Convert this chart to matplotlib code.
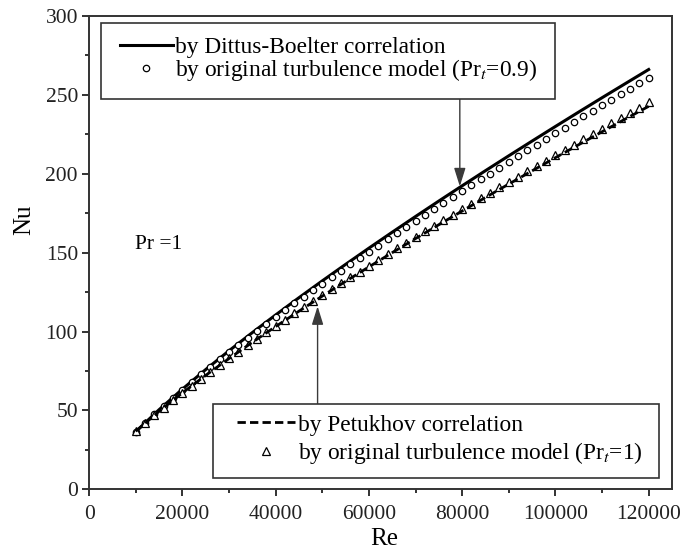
import matplotlib
matplotlib.use("Agg")
from matplotlib import pyplot as plt
from matplotlib.patches import Rectangle
from matplotlib.ticker import MultipleLocator

plt.rcParams['font.family'] = ['Liberation Serif', 'DejaVu Serif']
plt.rcParams['mathtext.fontset'] = 'stix'

# correlations (lines), Re step 5000
re_line = [10000, 15000, 20000, 25000, 30000, 35000, 40000, 45000, 50000, 55000, 60000, 65000,
           70000, 75000, 80000, 85000, 90000, 95000, 100000, 105000, 110000, 115000, 120000]
nu_dittus = [36.45, 50.42, 63.46, 75.87, 87.78, 99.30, 110.49, 121.42, 132.09, 142.55, 152.83, 162.94,
             172.90, 182.71, 192.38, 201.95, 211.39, 220.73, 229.98, 239.13, 248.19, 257.16, 266.09]
nu_petukhov = [36.77, 49.39, 61.10, 72.20, 82.85, 93.14, 103.13, 112.88, 122.42, 131.77, 140.96, 150.00,
               158.91, 167.71, 176.39, 184.98, 193.46, 201.86, 210.19, 218.43, 226.61, 234.71, 242.76]

# turbulence model results (markers), Re step 2000
re_model = list(range(10000, 120001, 2000))
nu_prt09 = [36.5, 42.1, 47.6, 52.9, 58.1, 63.1, 68.1, 72.9, 77.7, 82.4,
            87.0, 91.6, 96.1, 100.5, 104.9, 109.2, 113.5, 117.8, 122.0, 126.2,
            130.3, 134.4, 138.5, 142.6, 146.6, 150.5, 154.5, 158.4, 162.3, 166.2,
            170.0, 173.8, 177.6, 181.4, 185.2, 188.9, 192.6, 196.4, 200.1, 203.8,
            207.5, 211.2, 214.8, 218.5, 222.1, 225.7, 229.3, 232.8, 236.4, 239.9,
            243.5, 247.0, 250.5, 254.0, 257.5, 261.0]
nu_prt1 = [36.8, 41.9, 46.9, 51.8, 56.5, 61.2, 65.7, 70.1, 74.5, 78.8,
           83.1, 87.2, 91.3, 95.4, 99.4, 103.5, 107.6, 111.5, 115.4, 119.3,
           123.1, 126.9, 130.6, 134.3, 138.0, 141.8, 145.5, 149.1, 152.7, 156.3,
           159.9, 163.5, 167.0, 170.5, 174.0, 177.6, 181.0, 184.5, 187.9, 191.4,
           194.8, 198.2, 201.6, 205.0, 208.4, 211.8, 215.2, 218.5, 221.9, 225.2,
           228.6, 231.9, 235.3, 238.6, 241.9, 245.2]

fig = plt.figure(figsize=(6.96, 5.5), dpi=100)
ax = fig.add_axes([0.128, 0.1104, 0.8375, 0.8605])

l1, = ax.plot(re_line, nu_dittus, color='black', lw=2.2)
m1, = ax.plot(re_model, nu_prt09, 'o', ms=4.6, mfc='white', mec='black', mew=0.9)
m2, = ax.plot(re_model, nu_prt1, '^', ms=5.6, mfc='white', mec='black', mew=0.9)
l2, = ax.plot(re_line, nu_petukhov, color='black', lw=2.0, ls=(0, (3, 1.5)))

ax.set_xlim(0, 125000)
ax.set_ylim(0, 300)
ax.xaxis.set_major_locator(MultipleLocator(20000))
ax.xaxis.set_minor_locator(MultipleLocator(10000))
ax.yaxis.set_major_locator(MultipleLocator(50))
ax.yaxis.set_minor_locator(MultipleLocator(25))
ax.tick_params(which='both', direction='out', width=1.3, labelsize=15.5, colors='#222222')
ax.tick_params(which='major', length=5, pad=3)
ax.tick_params(which='minor', length=3)
ax.tick_params(axis='x', which='major', pad=6)
for s in ax.spines.values():
    s.set_linewidth(1.4)
    s.set_color('#333333')

ax.set_xlabel('Re', fontsize=18, va='center')
ax.set_ylabel('Nu', fontsize=18, va='center')
ax.xaxis.set_label_coords(0.506, -0.105)
ax.yaxis.set_label_coords(-0.111, 0.569)

ax.text(9860, 155, 'Pr =1', fontsize=15.5, va='center')

# legend frames (drawn separately so the padding matches the original)
for x0, y0, x1, y1 in [(0.0204, 0.824, 0.7993, 0.9846), (0.2131, 0.0232, 0.9782, 0.1802)]:
    ax.add_patch(Rectangle((x0, y0), x1 - x0, y1 - y0, transform=ax.transAxes,
                           fc='white', ec='#333333', lw=1.2, zorder=4))

leg_kw = dict(fontsize=16.8, frameon=False, handletextpad=0.1, borderpad=0, borderaxespad=0)
leg1 = ax.legend([l1, m1], ['by Dittus-Boelter correlation',
                            r'by original turbulence model (Pr$_t$=0.9)'],
                 loc='center left', bbox_to_anchor=(0.053, 0.907),
                 handlelength=2.27, labelspacing=-0.05, **leg_kw)
leg1.set_zorder(5)
ax.add_artist(leg1)
leg2 = ax.legend([l2, m2], ['by Petukhov correlation',
                            r'by original turbulence model (Pr$_t$=1)'],
                 loc='center left', bbox_to_anchor=(0.254, 0.104),
                 handlelength=2.5, labelspacing=0.18, **leg_kw)
leg2.set_zorder(5)

arrow = dict(arrowstyle='-|>,head_length=0.8,head_width=0.25', color='#3a3a3a', lw=1.0,
             mutation_scale=14, shrinkA=0, shrinkB=0)
ax.annotate('', xy=(79500, 192), xytext=(79500, 247.5), arrowprops=arrow)
ax.annotate('', xy=(49000, 116), xytext=(49000, 54.1), arrowprops=arrow)

fig.savefig('out.png', dpi=100)
